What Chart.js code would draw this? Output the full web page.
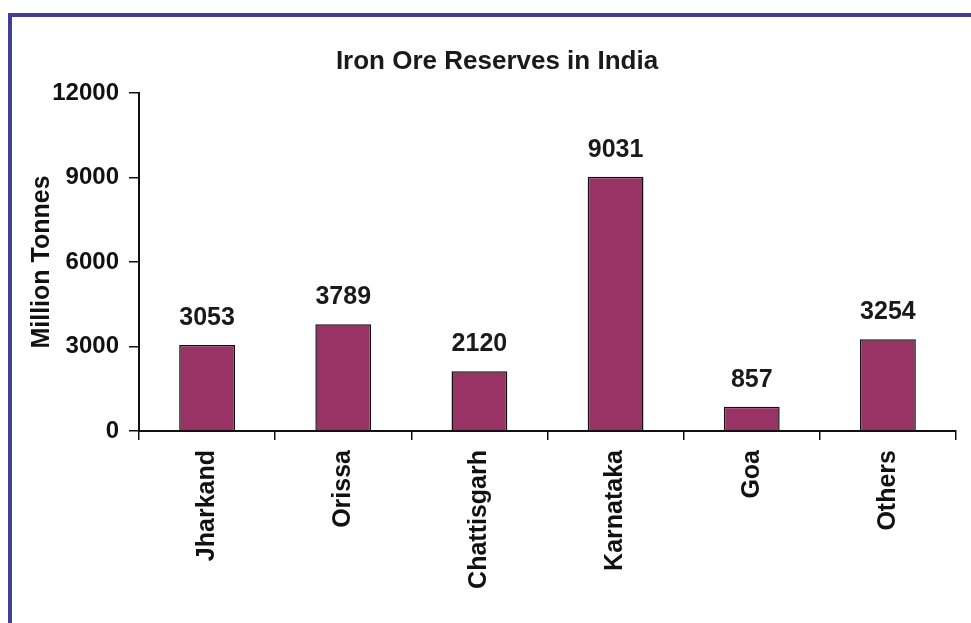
<!DOCTYPE html>
<html>
<head>
<meta charset="utf-8">
<script src="https://cdn.jsdelivr.net/npm/chart.js@4.4.0/dist/chart.umd.min.js"></script>
<style>
  html, body { margin: 0; padding: 0; background: #fff; }
  body { width: 971px; height: 623px; position: relative; overflow: hidden; }
  #frame {
    position: absolute; left: 8px; top: 13px; width: 1000px; height: 700px;
    border-top: 4px solid #433d94; border-left: 4px solid #433d94;
  }
  #wrap { position: absolute; left: 0; top: 0; width: 971px; height: 623px; }
</style>
</head>
<body>
<div id="frame"></div>
<div id="wrap"><canvas id="chart" width="971" height="623"></canvas></div>
<script>
const states = ["Jharkand", "Orissa", "Chattisgarh", "Karnataka", "Goa", "Others"];
const reserves = [3053, 3789, 2120, 9031, 857, 3254];
const yTicks = [0, 3000, 6000, 9000, 12000];
const chartTitle = "Iron Ore Reserves in India";

const FONT = "'Liberation Sans', Arial, sans-serif";

// value labels above each bar + the title (placed like the original, not canvas-centred)
const valueLabels = {
    id: "valueLabels",
    afterDatasetsDraw(chart) {
        const ctx = chart.ctx;
        const meta = chart.getDatasetMeta(0);
        ctx.save();
        ctx.font = "bold 25px " + FONT;
        ctx.fillStyle = "#1a1a1a";
        ctx.textAlign = "center";
        ctx.textBaseline = "alphabetic";
        meta.data.forEach((bar, i) => {
            ctx.fillText(String(reserves[i]), bar.x, bar.y - 20);
        });

        ctx.font = "bold 26px " + FONT;
        ctx.textBaseline = "middle";
        ctx.fillText(chartTitle, 497, 62);
        ctx.restore();
    }
};

new Chart(document.getElementById("chart"), {
    type: "bar",
    data: {
        labels: states,
        datasets: [{
            data: reserves,
            backgroundColor: "#993366",
            borderColor: "#111",
            borderWidth: 1.5,
            barPercentage: 0.41,
            categoryPercentage: 1.0
        }]
    },
    options: {
        responsive: false,
        animation: false,
        layout: { padding: { left: 14, right: 15, top: 93, bottom: 0 } },
        plugins: {
            legend: { display: false },
            tooltip: { enabled: false },
            title: { display: false }
        },
        scales: {
            x: {
                afterFit(scale) { scale.height = 192; },
                grid: {
                    offset: true,
                    drawOnChartArea: false,
                    drawTicks: true,
                    tickLength: 9,
                    tickColor: "#111",
                    lineWidth: 1.5
                },
                border: { color: "#111", width: 2 },
                ticks: {
                    color: "#111",
                    minRotation: 90,
                    maxRotation: 90,
                    padding: 10,
                    font: { family: FONT, size: 25, weight: "bold" }
                }
            },
            y: {
                min: 0,
                max: 12000,
                afterFit(scale) { scale.width = 139 - 14; },
                afterBuildTicks(scale) { scale.ticks = yTicks.map(v => ({ value: v })); },
                grid: {
                    drawOnChartArea: false,
                    drawTicks: true,
                    tickLength: 10,
                    tickColor: "#111",
                    lineWidth: 1.5
                },
                border: { color: "#111", width: 2 },
                ticks: {
                    color: "#111",
                    padding: 10,
                    callback: v => String(v),
                    font: { family: FONT, size: 24, weight: "bold" }
                },
                title: {
                    display: true,
                    text: "Million Tonnes",
                    color: "#111",
                    font: { family: FONT, size: 25, weight: "bold" },
                    padding: { top: 13, bottom: 4 }
                }
            }
        }
    },
    plugins: [valueLabels]
});
</script>
</body>
</html>
